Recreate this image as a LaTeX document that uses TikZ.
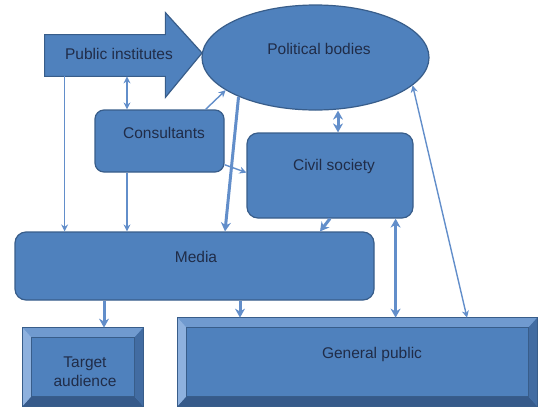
\documentclass[tikz,border=0pt]{standalone}
\usepackage{fontspec}
\setmainfont{Liberation Sans}
\usetikzlibrary{shapes.geometric,arrows.meta,calc}

\definecolor{boxfill}{RGB}{79,129,189}
\definecolor{boxline}{RGB}{56,93,138}
\definecolor{linkblue}{RGB}{98,142,202}
\definecolor{labelink}{RGB}{32,44,72}
\definecolor{bevlight}{RGB}{142,177,222}
\definecolor{bevtop}{RGB}{112,154,207}
\definecolor{bevdark}{RGB}{54,90,138}
\definecolor{bevright}{RGB}{66,108,162}

\tikzset{every picture/.style={line width=0.75pt}}

\begin{document}
\begin{tikzpicture}[x=1pt,y=1pt,yscale=-1,xscale=1,
  block/.style={draw=boxline,fill=boxfill,line width=1.2pt,inner sep=0pt},
  roundblock/.style={block,rounded corners=9pt},
  bevelblock/.style={fill=boxfill,inner sep=0pt},
  boxlabel/.style={text=labelink,font=\fontsize{15.5}{19}\selectfont,align=center},
  thinlink/.style={draw=linkblue,line width=1.4pt,-{Stealth[length=7pt,width=7pt]}},
  thicklink/.style={draw=linkblue,line width=3pt,-{Stealth[length=9pt,width=10pt]}}]
\useasboundingbox (0,0) rectangle (538,408);

%Shape: Right Arrow
\node [minimum width=120pt,minimum height=41pt,inner sep=0pt] (pubinst) at (105,55.5) {};
\draw [block] (pubinst.north west) -- (pubinst.north east) -- ($(pubinst.north east)+(0,-22)$) -- (202,53) -- ($(pubinst.south east)+(0,21)$) -- (pubinst.south east) -- (pubinst.south west) -- cycle ;
%Shape: Ellipse
\node [block,ellipse,minimum width=227pt,minimum height=105pt] (polit) at (315.5,57.5) {};
%Rounded Rect
\node [roundblock,minimum width=129pt,minimum height=62pt] (consult) at (159.5,141) {};
%Rounded Rect
\node [roundblock,rounded corners=11pt,minimum width=166pt,minimum height=85pt] (civil) at (330,175.5) {};
%Rounded Rect
\node [roundblock,rounded corners=11pt,minimum width=359pt,minimum height=68pt] (media) at (194.5,266) {};
%Shape: Bevel
\node [bevelblock,minimum width=120pt,minimum height=78pt] (target) at (83,367) {};
\node [bevelblock,minimum width=359pt,minimum height=88pt] (genpub) at (357.5,362) {};
\foreach \b in {target,genpub}{
  \fill [bevtop] (\b.north west) -- (\b.north east) -- ($(\b.north east)+(-9,10)$) -- ($(\b.north west)+(9,10)$) -- cycle ;
  \fill [bevlight] (\b.north west) -- ($(\b.north west)+(9,10)$) -- ($(\b.south west)+(9,-10)$) -- (\b.south west) -- cycle ;
  \fill [bevdark] (\b.south west) -- (\b.south east) -- ($(\b.south east)+(-9,-10)$) -- ($(\b.south west)+(9,-10)$) -- cycle ;
  \fill [bevright] (\b.north east) -- ($(\b.north east)+(-9,10)$) -- ($(\b.south east)+(-9,-10)$) -- (\b.south east) -- cycle ;
  \draw [boxline,line width=1pt] (\b.north west) rectangle (\b.south east) ;
  \draw [boxline,line width=0.6pt] ($(\b.north west)+(9,10)$) rectangle ($(\b.south east)+(-9,-10)$) ;
}

%Straight Lines
\draw [thinlink] ([xshift=20pt]pubinst.south west) -- ([xshift=20pt]pubinst.south west |- media.north) ;
\draw [thinlink,{Stealth[length=7pt,width=7pt]}-{Stealth[length=7pt,width=7pt]}] ([xshift=-32.5pt]consult.north) -- ([xshift=-32.5pt]consult.north |- pubinst.south) ;
\draw [thinlink] ([xshift=-32.5pt]consult.south) -- ([xshift=-32.5pt]consult.south |- media.north) ;
\draw [thinlink] ([xshift=-19pt]consult.north east) -- (polit.200) ;
\draw [thinlink] (consult.-20) -- (civil.178) ;
\draw [thicklink] (polit.207) -- ([xshift=30.5pt]media.north) ;
\draw [thicklink,{Stealth[length=9pt,width=10pt]}-{Stealth[length=9pt,width=10pt]}] ([xshift=8pt]civil.north) -- ([xshift=8pt]civil.north |- polit.south) ;
\draw [thicklink] (civil.south) -- ([xshift=125.5pt]media.north) ;
\draw [thicklink,{Stealth[length=9pt,width=10pt]}-{Stealth[length=9pt,width=10pt]}] ([xshift=-18pt]civil.south east) -- ([xshift=-18pt]civil.south east |- genpub.north) ;
\draw [thinlink,{Stealth[length=7pt,width=7pt]}-{Stealth[length=7pt,width=7pt]}] (polit.-16) -- ([xshift=109.5pt]genpub.north) ;
\draw [thicklink] ([xshift=-90.5pt]media.south) -- ([xshift=-90.5pt]media.south |- target.north) ;
\draw [thicklink] ([xshift=45.5pt]media.south) -- ([xshift=45.5pt]media.south |- genpub.north) ;

% Text Node
\node [boxlabel] (pubinsttext) at (119,54) {Public institutes};
% Text Node
\node [boxlabel] (polittext) at (319,49) {Political bodies};
% Text Node
\node [boxlabel] (consulttext) at (164,133) {Consultants};
% Text Node
\node [boxlabel] (civiltext) at (334,166) {Civil society};
% Text Node
\node [boxlabel] (mediatext) at (196,257) {Media};
% Text Node
\node [boxlabel] (targettext) at (85,372) {Target\\audience};
% Text Node
\node [boxlabel] (genpubtext) at (372,354) {General public};

\end{tikzpicture}
\end{document}
